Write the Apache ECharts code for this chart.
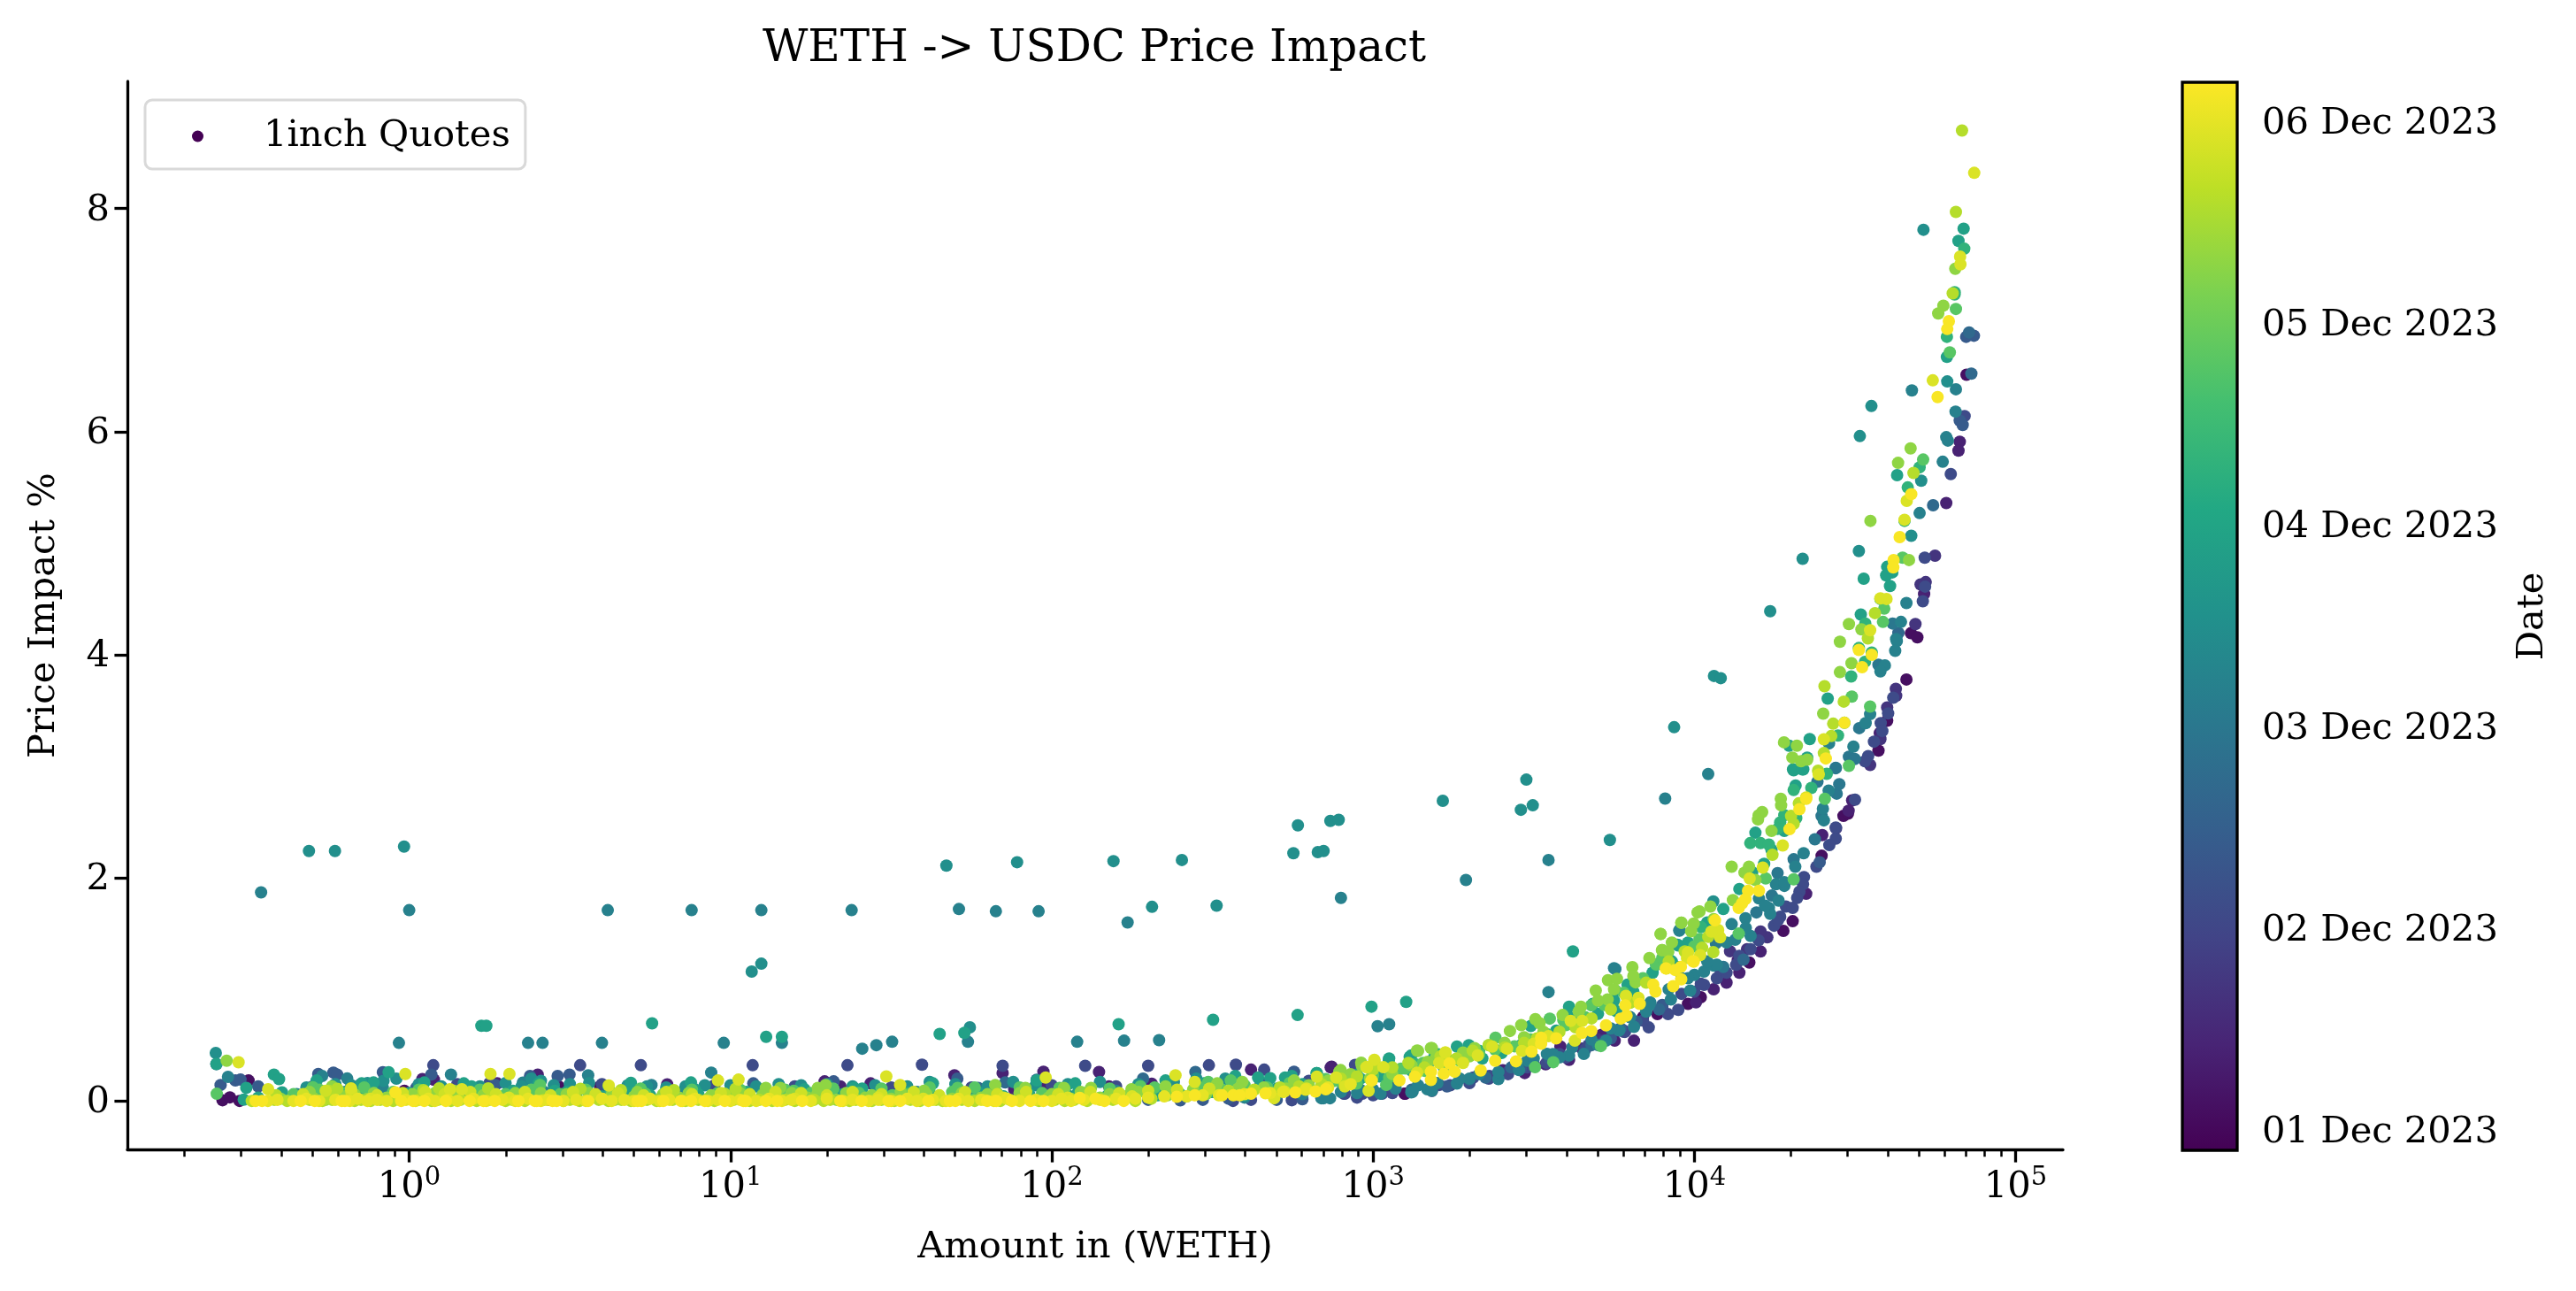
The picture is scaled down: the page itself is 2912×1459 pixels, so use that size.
<!DOCTYPE html>
<html><head><meta charset="utf-8">
<style>html,body{margin:0;padding:0;background:#fff}#c{width:2912px;height:1459px}</style>
<script src="https://cdn.jsdelivr.net/npm/echarts@6/dist/echarts.min.js"></script>
</head><body><div id="c"></div>
<script>
// Quote data: flat lists of log10(amount), impact %, one list per colour step.
const day01=[4.847,6.51,4.674,4.193,4.694,4.156,4.66,3.778,4.6,3.408,4.573,3.141,4.464,2.555,4.478,2.576,4.396,2.198,4.306,1.611,4.277,1.524,4.171,1.241,3.885,.778,3.84,.751,3.1,.064,3.183,.09,3.098,.064,3.98,.87,4.02,.93,-.581,.006,-.558,.032,-.528,0,-.5,.183,-.322,.077,-.113,.064,-.015,.09,.465,.13,.594,.13,.434,.011,.723,.104];
const day04=[4.784,5.36,4.826,5.91,4.822,5.83,4.715,4.545,4.577,3.297,4.491,2.695,4.48,2.602,4.398,2.383,4.348,1.857,4.206,1.339,4.135,1.262,3.812,.54,3.752,.54,3.537,.328,3.61,.368,3.583,.487,2.871,.307,3.472,.25,3.404,.275,3.711,.593,4.005,.883,1.697,.23,1.847,.25,2.147,.26,2.311,.155,2.62,.28,2.868,.3,1.974,.262,1.293,.175,1.342,.13,1.436,.157,1.883,.104,1.981,.117,2.178,.13,.041,.196,.077,.19,.274,.157,.4,.236,.803,.149,4.06,1.0,4.1,1.06,4.14,1.15];
const day07=[4.749,4.888,4.72,4.651,4.704,4.63,4.688,4.275,4.627,3.694,4.628,3.633,4.6,3.527,4.579,3.244,4.547,3.012,4.441,2.444,4.227,1.466,4.206,1.519,4.164,1.36,4.111,1.341,3.65,.47,3.7,.55,3.78,.63];
const day11=[4.841,6.14,4.798,5.62,4.717,4.87,4.619,3.615,4.58,3.387,4.541,3.091,4.531,3.046,4.341,2.007,4.338,1.942,4.327,1.875,4.285,1.743,4.306,1.73,4.267,1.651,4.44,2.351,4.718,4.611,4.711,4.479,4.603,3.474,4.585,3.316,4.559,3.221,4.42,2.293,4.248,1.571,4.175,1.36,3.918,.778,3.95,.817,3.858,.659,3.784,.619,3.362,.223,3.312,.209,2.747,.006,2.912,.064,2.967,.064,3.206,.143,3.028,.064,3.063,.117,2.909,.064,2.564,0,2.62,.01,2.944,.323,1.069,.32,1.364,.32,1.596,.325,1.847,.315,2.104,.315,2.3,.315,2.489,.32,2.573,.325,2.661,.28,.532,.32,.721,.32,.075,.32,4.0,.98,4.03,1.04,4.07,1.1,4.1,1.15,4.13,1.22,3.42,.26,3.5,.33,3.58,.42,3.67,.5];
const day11band=[2.95,.03,3.0,.05,3.06,.07,3.12,.09,3.18,.1,3.24,.14,3.3,.16,3.36,.2,3.42,.24,3.48,.3,3.54,.34,3.6,.39,3.66,.46,3.72,.54,3.78,.62,3.84,.72,3.9,.84,3.96,.96,4.02,1.05,4.08,1.18,4.14,1.3,4.2,1.44,4.26,1.62,4.32,1.82,4.38,2.1,4.44,2.45,4.5,2.7,-.3,.13,-.15,.15,.15,.15,.25,.16,.6,.15,.95,.14,1.2,.13,1.5,.12,1.75,.12,2.0,.14,2.2,.13,2.45,.13,2.65,.16,2.8,.18];
const day14=[4.826,6.10,4.835,6.06,4.87,6.86,4.846,6.85,4.39,2.14,-.6,.33,-.587,.143,-.541,.183,-.525,.191,-.47,.13,-.283,.241,-.236,.254,-.224,.236,-.082,.257,.069,.236,.376,.223,.462,.223,.499,.236,.268,.143,.022,.117,1.706,.2,1.321,.175,1.071,.157,2.754,.262,2.3,.01,2.4,.005,2.47,.01,2.55,.02,2.7,.01,2.78,.015,2.85,.03,3.23,.13,3.3,.19,3.46,.29,3.55,.38,3.74,.56,3.82,.71,3.9,.86];
const day17=[4.855,6.89,4.862,6.52,4.743,5.34,4.635,4.196,4.153,1.267,2.447,.26,2.284,.2,1.771,.117,1.855,.165,1.953,.19,3.12,.1,3.35,.21,3.43,.3,3.68,.5,3.77,.65,3.89,.82];
const day20=[4.513,3.342,4.481,3.086,4.499,3.065,4.44,2.986,4.44,2.983,4.383,2.861,4.443,2.755,4.451,2.84,4.396,2.555,4.375,2.346,4.309,2.166,4.259,2.042,4.241,1.841,4.193,1.69,4.573,3.91,4.617,4.28,4.09,1.201,4.067,1.413,3.95,1.2,3.8,.75];
const day22=[4.813,6.18,4.784,5.95,4.789,5.92,4.773,5.73,4.814,6.38,4.677,6.37,4.701,5.27,4.66,4.463,4.643,4.294,4.628,4.14,4.63,4.122,4.625,4.035,4.593,3.905,4.579,3.85,4.547,3.467,4.533,3.387,4.495,3.176,4.419,3.205,4.418,2.782,4.403,2.515,4.314,2.1,4.254,1.942,4.28,1.928,4.201,1.815,4.262,1.796,4.232,1.73,4.236,1.677,4.159,1.637,4.116,1.585,4.175,1.479,4.127,1.445,4.059,1.214,3.953,1.526,3.909,2.71,4.043,2.93,3.39,.196,3.454,.276,3.541,.421,3.61,.408,3.656,.421,3.725,.54,3.766,.632,3.812,.664,3.863,.883,3.927,.91,3.987,.989,3.954,1.531,3.754,1.182,3.546,.976,3.123,.082,3.169,.104,3.261,.156,2.839,.024,2.866,.024,3.023,.064,3.119,.077,3.183,.09,2.845,.024,3.014,.67,3.05,.687,3.75,1.19,3.546,2.16,3.289,1.98,-.461,1.87,0,1.71,.618,1.71,.879,1.71,-.032,.52,.37,.52,.415,.52,.6,.52,.979,.52,1.096,1.71,1.377,1.71,1.711,1.72,1.826,1.7,1.959,1.7,2.236,1.6,2.9,1.82,1.16,.52,1.41,.468,1.454,.5,1.503,.53,1.739,.53,2.079,.53,2.225,.54,2.334,.545,-.564,.215,.557,.23,.354,.164,.13,.236,-.193,.201,-.271,.223,-.082,.117,.94,.254,.754,.143,3.96,1.1,4.0,1.13,4.03,1.16,4.07,1.22,3.3,.2,3.48,.36,3.58,.39,3.7,.5,3.85,.8,2.6,.03,2.7,.05,2.78,.06,2.9,.08,2.96,.1,1.2,.03,1.3,.07,1.45,.05,1.58,.08,1.75,.04,1.9,.07,2.05,.05,2.2,.09,2.35,.06,2.5,.08,-.35,.06,-.2,.08,-.05,.04,.2,.09,.42,.08,.65,.06,.85,.08];
const day22band=[2.95,.07,3.0,.1,3.07,.11,3.14,.14,3.2,.16,3.27,.2,3.33,.24,3.39,.26,3.45,.33,3.5,.38,3.56,.42,3.62,.48,3.68,.55,3.74,.65,3.8,.75,3.86,.86,3.92,1.0,3.98,1.1,4.04,1.25,4.1,1.42,4.16,1.55,4.22,1.75,4.28,1.96,4.34,2.22,4.4,2.62];
const day25=[4.337,4.86,4.236,4.39,4.551,6.23,4.515,5.96,4.713,7.81,4.787,6.45,4.706,5.56,4.512,4.93,4.675,5.066,4.061,3.81,4.082,3.79,3.937,3.35,3.477,2.88,3.217,2.69,3.497,2.65,3.46,2.61,3.737,2.34,4.059,1.788,2.766,2.47,2.867,2.51,2.893,2.52,1.672,2.11,1.892,2.14,2.192,2.15,2.405,2.16,2.752,2.22,2.828,2.23,2.846,2.24,2.312,1.74,2.513,1.75,-.312,2.24,-.231,2.24,-.016,2.28,-.602,.43,1.066,1.16,1.096,1.23,1.745,.66];
const day25low=[-.32,.12,-.23,.15,-.18,.14,-.13,.16,-.08,.18,-.04,.2,.03,.15,.1,.13,.22,.13,.3,.16,.35,.13,.38,.2,.41,.18,.45,.14,.5,.15,.56,.16,.62,.13,.68,.14,.74,.13,.8,.12,.86,.13,.92,.14,1.0,.14,1.08,.13,1.15,.15,1.22,.14,1.3,.15,1.38,.13,1.45,.14,1.55,.13,1.62,.17,1.7,.15,1.8,.13,1.88,.17,1.95,.14,2.05,.15,2.15,.17,2.27,.15,2.38,.17,2.45,.2,2.54,.2];
const day29=[4.838,7.82,4.822,7.71,4.786,6.67,4.631,5.61,4.6,4.788,4.616,4.738,4.597,4.711,4.527,4.682,4.609,4.616,4.518,4.36,4.415,3.607,4.359,3.244,4.295,3.184,4.307,2.972,4.339,2.972,4.351,3.078,4.309,2.964,4.336,2.972,4.315,2.827,4.19,2.404,4.217,2.126,3.948,1.4,3.881,1.22,.2247,.674,.24,.674,.756,.695,-.6,.33,1.111,.574,1.16,.574,1.651,.6,1.728,.61,2.208,.687,2.502,.727,2.765,.77,2.995,.845,3.103,.888,3.622,1.34,3.61,.844,3.754,.989,3.757,.804,3.95,1.393,2.68,.204,2.747,.223,2.825,.249,2.949,.236,3.05,.381,3.114,.394,3.188,.381,3.261,.487,3.298,.5,3.491,.672,3.61,.751,3.684,.87,3.792,1.042,-.421,.236,-.405,.196,-.148,.157,-.111,.165,-.064,.257,-.507,.117,-.515,.011,-.288,.183,.403,.157,.69,.162,.877,.165,.047,.165,.17,.157,.194,.13,.323,.09,.453,.09,.49,.08,.809,.09,.889,.104,-.138,.09,-.396,.077,1.23,.104,1.384,.117,1.41,.11,1.63,.157,1.553,.077,1.953,.183,2.073,.157,2.354,.183,2.571,.223,2.642,.21,2.726,.21,2.824,.249,3.049,.368,3.119,.408,2.473,.157,-.47,.03,-.4,.05,-.34,.02,-.25,.06,-.19,.04,-.16,.1,-.1,.05,-.06,.03,0,.07,.06,.04,.1,.08,.18,.03,.22,.06,.3,.04,.38,.07,.45,.03,.52,.06,.6,.04,.68,.08,.75,.05,.83,.03,.9,.06,.98,.05,1.05,.08,1.12,.04,1.18,.07,1.27,.03,1.35,.06,1.48,.05,1.55,.03,1.62,.07,1.7,.05,1.77,.08,1.85,.04,1.93,.06,2.0,.03,2.08,.07,2.17,.04,2.25,.08,2.33,.05,2.4,.06,2.5,.08,2.6,.05,2.7,.07];
const day29band=[2.6,.1,2.65,.13,2.7,.11,2.78,.15,2.84,.13,2.9,.17,2.96,.2,3.02,.22,3.07,.26,3.12,.27,3.17,.31,3.22,.3,3.28,.36,3.34,.38,3.4,.43,3.46,.5,3.52,.55,3.57,.63,3.63,.7,3.7,.78,3.75,.9,3.81,.98,3.87,1.15,3.93,1.25,3.98,1.42,4.04,1.6,4.09,1.72,4.14,1.9,4.18,2.05,4.24,2.25,4.28,2.42];
const day33=[4.84,7.64,4.81,7.25,4.81,7.23,4.786,6.85,4.654,5.2,4.664,5.5,4.701,5.68,4.532,4.28,4.28,2.562,4.309,2.787,4.364,2.806,4.412,2.933,4.174,2.311,4.206,2.311,4.232,2.298,4.267,2.497,4.259,2.438,4.317,2.536,4.467,3.39,4.447,3.276,4.531,3.937,4.552,4.02,4.021,1.558,4.488,3.805,4.512,4.06,4.579,4.5,3.13,.33,3.2,.42,3.33,.45];
const day38=[4.814,7.10,4.795,6.71,4.712,5.75,4.49,3.625,4.547,3.535,4.587,4.294,4.648,4.87,4.222,1.994,4.309,1.986,4.406,2.708,4.481,3.004,4.138,1.5,4.016,1.452,4.0,1.386,3.561,.347,3.504,.302,3.709,.492,3.55,.738,2.949,.156,3.041,.143,3.087,.289,3.156,.341,3.381,.566,3.679,.857,3.881,1.222,3.592,.725,4.591,4.413,3.918,1.334,-.599,.064,-.3,.122,.407,.143,.735,.064,.207,.064,1.707,.117,1.197,.091,1.504,.051,1.757,.011,2.024,.117,2.276,.13,2.487,.17,2.557,.183,2.944,.157,2.852,.196];
const day38band=[-.36,.06,-.28,.1,-.2,.07,-.14,.12,-.05,.08,.03,.1,.12,.06,.22,.1,.3,.06,.38,.1,.47,.06,.55,.1,.63,.07,.72,.11,.8,.06,.88,.1,.96,.07,1.03,.1,1.1,.06,1.17,.1,1.25,.07,1.32,.11,1.4,.07,1.47,.11,1.55,.06,1.62,.12,1.69,.08,1.76,.12,1.83,.07,1.9,.12,1.97,.07,2.04,.1,2.1,.07,2.18,.11,2.25,.07,2.32,.12,2.39,.09,2.46,.12,2.53,.1,2.6,.14,2.67,.12,2.74,.16,2.8,.13,2.88,.18,2.93,.16,3.0,.23,3.05,.21,3.1,.29,3.16,.27,3.22,.33,3.27,.36,3.33,.42,3.38,.46,3.44,.49,3.49,.55,3.54,.6,3.6,.68,3.66,.75,3.72,.86,3.78,.97,3.84,1.1,3.9,1.28];
const day43=[4.775,7.13,4.812,7.46,4.759,7.06,4.673,5.85,4.634,5.72,4.548,5.2,4.668,4.849,4.481,4.275,4.52,4.228,4.453,4.117,4.489,3.924,4.453,3.844,4.401,3.472,4.279,3.215,4.319,3.184,4.305,3.078,4.332,3.046,4.351,3.06,4.269,2.708,4.211,2.589,4.2,2.56,4.198,2.523,4.116,2.1,4.156,2.047,4.19,1.98,4.05,1.743,4.016,1.698,3.96,1.598,3.998,1.59,3.895,1.497,3.9,1.352,-.568,.36,2.899,.276,2.963,.342,3.137,.452,3.18,.474,3.426,.627,3.461,.68,3.505,.733,3.518,.698,3.647,.844,3.693,.989,3.731,1.082,3.759,1.095,3.807,1.2,3.817,1.063,3.73,.91,3.895,1.496,3.959,1.597,4.01,1.69,3.899,1.351,3.918,1.338,3.28,.434,3.316,.474,3.114,.328,3.197,.394,-.4,.02,-.3,.03,-.26,.01,-.2,.04,-.13,.02,-.07,.03,-.03,.01,.02,.04,.1,.02,.15,.03,.2,.01,.28,.03,.35,.02,.44,.04,.51,.02,.57,.03,.64,.01,.7,.04,.78,.02,.84,.03,.93,.02,1.0,.04,1.07,.01,1.155,.117,1.11,.117,1.272,.117,1.296,.143,1.602,.091,1.824,.143,1.918,.117,2.038,.117,2.122,.117,2.248,.104,2.354,.13,2.515,.157,2.593,.17,2.754,.183,2.895,.262,2.965,.315,3.004,.355,3.14,.447,3.183,.474,1.15,.02,1.24,.03,1.33,.01,1.42,.03,1.5,.02,1.6,.04,1.69,.02,1.78,.03,1.87,.01,1.99,.03,2.06,.02,2.15,.03,2.23,.04,2.3,.03,2.36,.05,2.42,.04,2.48,.06,2.55,.08,2.62,.07,2.7,.08];
const day43band=[-.31,.08,-.24,.13,-.17,.06,-.11,.07,-.04,.06,.01,.06,.08,.07,.14,.09,.23,.05,.33,.07,.41,.07,.49,.06,.56,.07,.63,.05,.71,.08,.79,.06,.87,.07,.94,.05,1.03,.07,1.1,.05,1.19,.07,1.27,.06,1.36,.07,1.44,.05,1.53,.08,1.61,.06,1.72,.07,1.8,.06,1.9,.07,2.0,.06,2.09,.08,2.18,.06,2.27,.08,2.37,.07,2.44,.1,2.51,.1,2.58,.11,2.66,.12,2.73,.11,2.8,.14,2.86,.18,2.93,.24,2.99,.2,3.06,.24,3.12,.32,3.17,.35,3.24,.36,3.3,.4,3.36,.5,3.41,.52,3.47,.57,3.53,.62,3.59,.77,3.64,.8,3.7,.9,3.75,1.0,3.81,1.12,3.86,1.28,3.93,1.42,3.99,1.52,4.06,1.63,4.12,1.8,4.17,2.1,4.24,2.42,4.27,2.65];
const day46=[4.833,8.70,4.814,7.97,4.804,7.24,4.682,5.63,4.403,3.118,4.405,3.718,4.465,3.58,4.432,3.382,4.426,3.271,4.54,4.146,4.325,2.668,4.301,2.555,4.309,2.483,4.385,2.96,4.024,1.373,4.059,1.334,3.979,1.334,4.043,1.471,4.243,2.206,4.562,4.373,-.414,.05,-.251,.09,-.224,.109,.044,.096,.093,.112,.246,.112,.533,.109,.659,.096,.824,.096,1.016,.109,.982,.064,-.49,0,-.42,.01,-.38,0,-.31,.01,-.27,0,-.24,.01,-.17,0,-.15,.01,-.12,0,-.09,.01,-.05,0,.03,.01,.07,0,.09,.01,.13,0,.16,.01,.21,0,.25,.01,.3,0,.32,.01,.36,0,.42,.01,.48,0,.5,.01,.53,0,.59,.01,.62,0,.66,.01,.69,0,.74,.01,.77,0,.82,.01,.86,0,.9,.01,.95,0,1.01,.01,1.06,0,1.09,.01,1.13,0,1.17,.01,1.2,0,1.26,.01,1.29,0,1.31,.01,1.37,0,1.39,.01,1.44,0,1.47,.01,1.51,0,1.56,.01,1.59,0,1.64,.01,1.66,0,1.72,.01,1.76,0,1.79,.01,1.84,0,1.9,.01,1.96,0,2.01,.01,2.04,0,2.07,.01,2.11,0,2.19,.01,2.26,0,2.31,.02];
const day46band=[2.55,.09,2.63,.1,2.71,.12,2.77,.13,2.84,.15,2.9,.2,2.95,.22,3.0,.28,3.06,.3,3.11,.34,3.16,.3,3.21,.4,3.26,.38,3.31,.45,3.36,.5,3.41,.48,3.47,.52,3.51,.56,3.58,.62,3.63,.66,3.68,.74,3.74,.82,3.8,.88,3.85,1.06,3.92,1.25,3.97,1.34];
const day48low=[-.33,.06,-.26,.09,-.18,.08,-.1,.05,-.02,.07,.05,.08,.11,.06,.19,.08,.27,.06,.36,.08,.44,.05,.51,.08,.58,.06,.65,.07,.73,.05,.8,.08,.88,.06,.97,.07,1.06,.06,1.14,.08,1.22,.07,1.3,.05,1.38,.08,1.47,.06,1.57,.08,1.65,.05,1.73,.08,1.83,.06,1.92,.08,2.02,.06,2.12,.08,2.21,.07,2.3,.09,2.39,.1,2.49,.11];
const day49=[4.871,8.32,4.827,7.57,4.828,7.50,4.742,6.46,4.661,5.38,4.654,5.21,4.598,4.5,4.579,4.505,4.547,4.22,4.403,3.242,4.387,2.927,4.348,2.72,4.275,2.29,4.213,2.092,4.172,1.994,4.08,1.466,4.074,1.532,4.053,1.518,4.018,1.307,-.531,.346,-.012,.241,.253,.241,.312,.241,.621,.138,.961,.183,1.025,.191,.127,.104,.164,.104,-.439,.104,-.181,.112,1.485,.22,1.528,.143,1.981,.21,2.385,.23,2.692,.024,2.724,.085,2.793,.11,2.825,.217,2.885,.21,2.912,.13,2.981,.302,3.004,.368,2.986,.09,3.032,.302,3.137,.254,3.206,.341,3.225,.434,3.28,.341,3.326,.408,3.371,.487,3.417,.468,3.463,.447,3.5,.513,3.546,.58,3.615,.717,3.628,.54,3.651,.717,3.787,.941,3.826,.923,3.913,1.187,3.977,1.28,3.98,1.33,-.12,.02,.31,.03,.6,.02,1.2,.02,1.46,.03,1.6,.02,1.85,.03,2.05,.03,2.25,.04,2.445,.17,2.979,.302,2.996,.183,3.225,.434];
const day50=[-.44,0,-.41,.01,-.36,0,-.32,.02,-.28,0,-.23,.01,-.185,0,-.16,.02,-.13,0,-.1,.01,-.07,0,-.01,.01,.02,0,.06,.02,.08,0,.12,.01,.15,0,.2,.02,.24,0,.29,.01,.33,0,.37,.02,.41,0,.43,.01,.48,0,.52,.01,.55,0,.6,.02,.63,0,.67,.01,.7,0,.75,.02,.78,0,.81,.01,.85,0,.89,.02,.93,0,.96,.01,1.0,0,1.03,.01,1.08,0,1.12,.02,1.16,0,1.19,.01,1.25,0,1.3,.02,1.35,0,1.38,.01,1.43,0,1.46,.01,1.5,0,1.55,.02,1.58,0,1.63,.01,1.67,0,1.71,.02,1.74,0,1.78,.01,1.82,0,1.86,.02,1.9,0,1.95,.01,2.0,0,2.03,.02,2.06,0,2.1,.01,2.15,.01,2.2,.02,2.26,.02,2.3,.03,2.35,.04,2.42,.04,2.47,.05,2.52,.05,2.6,.06,2.68,.07,2.72,.08,2.79,.1,2.86,.12,2.93,.15];
const day51=[4.792,6.99,4.787,6.92,4.757,6.31,4.675,5.44,4.639,5.055,4.62,4.849,4.619,4.783,4.552,4.0,4.522,3.889,4.467,3.39,4.512,4.043,4.409,3.07,4.348,2.708,4.327,2.615,4.296,2.436,4.167,1.883,4.201,1.883,4.159,1.809,4.138,1.73,4.148,1.77,4.064,1.619,3.998,1.249,3.958,1.202,3.911,1.188,-.478,0,-.458,0,-.338,0,-.294,0,-.21,0,-.2,0,-.043,.077,-.025,0,.012,0,.047,0,.114,0,.188,0,.231,0,.266,0,.34,0,.391,0,.397,0,.446,0,.459,0,.557,0,.711,0,.723,0,.791,0,.846,0,.877,0,.92,0,.982,0,1.04,0,1.047,0,1.11,0,1.145,0,1.223,0,1.342,0,1.408,0,1.492,0,1.528,0,1.616,0,1.683,0,1.7,0,1.799,0,1.827,0,1.876,0,1.934,0,1.974,0,2.087,.027,2.136,.02,2.164,0,2.224,0,2.389,.037,2.445,.05,2.53,.05,2.565,.05,2.585,.05,2.62,.065,2.665,.069,2.758,.077,2.821,.085,2.853,.104,2.995,.183,3.082,.183,3.13,.217,3.18,.188,3.18,.262,3.22,.244,3.254,.262,3.238,.336,3.335,.273,3.38,.36,3.445,.355,3.493,.442,3.523,.513,3.523,.566,3.57,.561,3.65,.61,3.679,.627,3.725,.677,3.771,.738,3.789,.764,3.785,.857,3.83,.87,3.872,1.042,3.879,.981,3.934,1.029,3.94,1.174,3.959,1.09,3.996,1.253];
const colourDays=[0.1,0.4,0.7,1.1,1.1,1.4,1.7,2.0,2.2,2.2,2.5,2.5,2.9,2.9,3.3,3.8,3.8,4.3,4.3,4.6,4.6,4.8,4.9,5.0,5.15];
const quoteLists=[day01,day04,day07,day11,day11band,day14,day17,day20,day22,day22band,day25,day25low,day29,day29band,day33,day38,day38band,day43,day43band,day46,day46band,day48low,day49,day50,day51];
const yTicks=[0,2,4,6,8];
const xMajorTicks=[1,10,100,1000,10000,100000];
const xMinorTicks=[.2,.3,.4,.5,.6,.7,.8,.9,2,3,4,5,6,7,8,9,20,30,40,50,60,70,80,90,200,300,400,500,600,700,800,900,2000,3000,4000,5000,6000,7000,8000,9000,20000,30000,40000,50000,60000,70000,80000,90000];
const dateTicks=[0,1,2,3,4,5];
const dateLabels=['01 Dec 2023','02 Dec 2023','03 Dec 2023','04 Dec 2023','05 Dec 2023','06 Dec 2023'];
const viridis=['#440154','#482475','#414487','#355f8d','#2a788e','#21918c','#22a884','#44bf70','#7ad151','#bddf26','#fde725'];
const dayMin=-0.105, dayMax=5.189;

const FONT='"DejaVu Serif"';
const points=[];
quoteLists.forEach((list,k)=>{for(let i=0;i+1<list.length;i+=2)points.push([Math.pow(10,list[i]),list[i+1],colourDays[k]]);});
const tickStyle={color:'#000',width:3.3};
const chart=echarts.init(document.getElementById('c'),null,{renderer:'canvas'});
chart.setOption({
  animation:false,
  backgroundColor:'#fff',
  textStyle:{fontFamily:FONT,color:'#000'},
  title:{text:'WETH -> USDC Price Impact',left:1232,top:26,textAlign:'center',textStyle:{fontFamily:FONT,fontSize:50,fontWeight:'normal',color:'#000'}},
  legend:{show:true,left:164,top:113,orient:'vertical',padding:[20,17,16,53],itemWidth:13,itemHeight:13,
    borderColor:'#d9d9d9',borderWidth:3,borderRadius:8,backgroundColor:'#fff',
    data:[{name:'1inch Quotes',icon:'circle',itemStyle:{color:'#440154'}}],
    textStyle:{fontFamily:FONT,fontSize:41.67,color:'#000',padding:[0,0,0,63]}},
  grid:[{left:144,top:92,width:2188,height:1207},{left:2467,top:93,width:62,height:1207}],
  xAxis:[
    {type:'log',logBase:10,gridIndex:0,min:0.1327,max:140300,splitLine:{show:false},minorTick:{show:false},minorSplitLine:{show:false},
     axisLine:{show:true,onZero:false,lineStyle:{color:'#000',width:3.3}},
     axisTick:{show:true,length:14.6,lineStyle:tickStyle,customValues:xMajorTicks},
     axisLabel:{show:true,margin:18,customValues:xMajorTicks,
       formatter:v=>'{b|10}{s|'+Math.round(Math.log10(v))+'}',
       rich:{b:{fontFamily:FONT,fontSize:41.67,color:'#000',verticalAlign:'bottom',lineHeight:46},s:{fontFamily:FONT,fontSize:29,color:'#000',verticalAlign:'top',lineHeight:40,padding:[0,0,14,0]}}},
     name:'Amount in (WETH)',nameLocation:'middle',nameGap:90,nameTextStyle:{fontFamily:FONT,fontSize:41.67,color:'#000'}},
    {type:'log',logBase:10,gridIndex:0,min:0.1327,max:140300,position:'bottom',splitLine:{show:false},minorTick:{show:false},
     axisLine:{show:false,onZero:false},axisLabel:{show:false},
     axisTick:{show:true,length:8.3,lineStyle:{color:'#000',width:2.5},customValues:xMinorTicks}},
    {type:'value',gridIndex:1,min:0,max:1,show:false}
  ],
  yAxis:[
    {type:'value',gridIndex:0,min:-0.435,max:9.14,splitLine:{show:false},
     axisLine:{show:true,onZero:false,lineStyle:{color:'#000',width:3.3}},
     axisTick:{show:true,length:14.6,lineStyle:tickStyle,customValues:yTicks},
     axisLabel:{show:true,margin:20,verticalAlign:'top',lineHeight:5,fontFamily:FONT,fontSize:41.67,color:'#000',customValues:yTicks,formatter:v=>String(v)},
     name:'Price Impact %',nameLocation:'middle',nameRotate:90,nameGap:73,nameTextStyle:{fontFamily:FONT,fontSize:41.67,color:'#000'}},
    {type:'value',gridIndex:1,position:'right',min:dayMin,max:dayMax,splitLine:{show:false},
     axisLine:{show:false},
     axisTick:{show:true,length:14.6,lineStyle:tickStyle,customValues:dateTicks},
     axisLabel:{show:true,margin:28,verticalAlign:'top',lineHeight:9,fontFamily:FONT,fontSize:41.67,color:'#000',customValues:dateTicks,formatter:v=>dateLabels[Math.round(v)]},
     name:'Date',nameLocation:'middle',nameRotate:90,nameGap:313,nameTextStyle:{fontFamily:FONT,fontSize:41.67,color:'#000'}}
  ],
  visualMap:{show:false,type:'continuous',seriesIndex:0,dimension:2,min:dayMin,max:dayMax,inRange:{color:viridis}},
  series:[
    {name:'1inch Quotes',type:'scatter',xAxisIndex:0,yAxisIndex:0,symbol:'circle',symbolSize:14,large:false,progressive:0,data:points,clip:false,itemStyle:{opacity:1}},
    {type:'custom',xAxisIndex:2,yAxisIndex:1,silent:true,data:[[0,dayMin,1,dayMax]],encode:{x:[0,2],y:[1,3]},
     renderItem:(p,api)=>{
       const a=api.coord([api.value(0),api.value(1)]),b=api.coord([api.value(2),api.value(3)]);
       return {type:'rect',shape:{x:a[0],y:b[1],width:b[0]-a[0],height:a[1]-b[1]},
         style:{fill:new echarts.graphic.LinearGradient(0,1,0,0,viridis.map((c,i)=>({offset:i/(viridis.length-1),color:c}))),stroke:'#000',lineWidth:3.3}};
     }}
  ]
});
</script></body></html>
